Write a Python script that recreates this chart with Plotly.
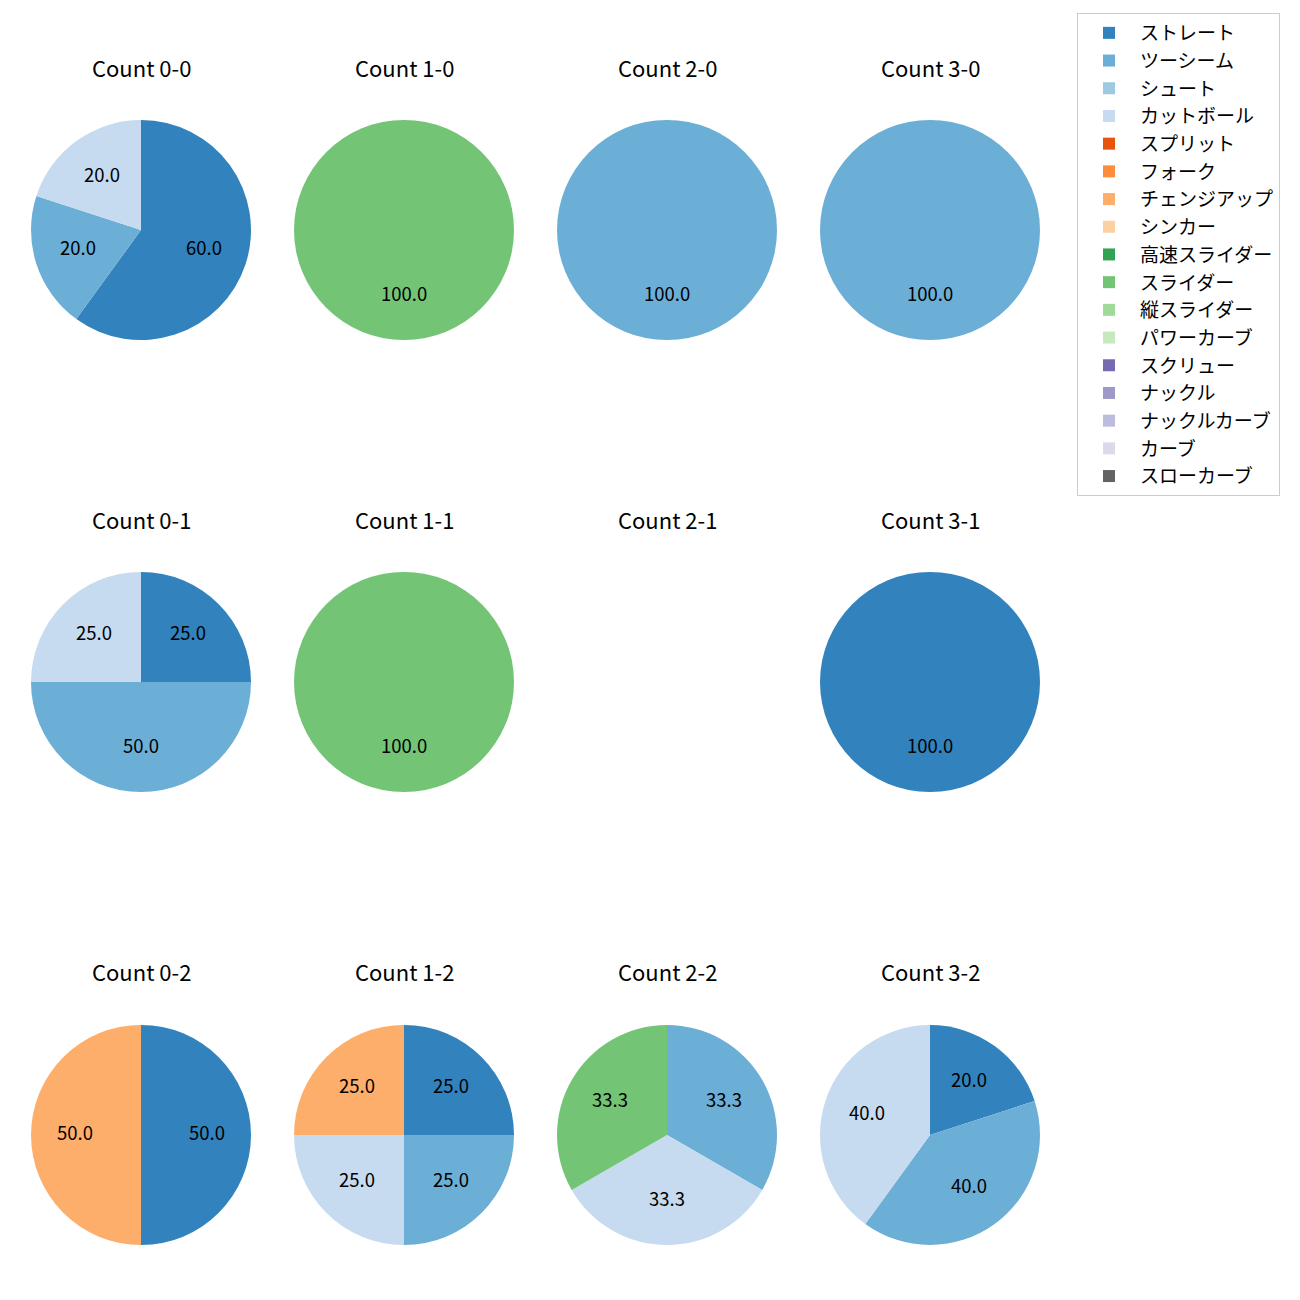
import plotly.graph_objects as go
import math

pitch_types = ["ストレート", "ツーシーム", "シュート", "カットボール", "スプリット", "フォーク",
               "チェンジアップ", "シンカー", "高速スライダー", "スライダー", "縦スライダー",
               "パワーカーブ", "スクリュー", "ナックル", "ナックルカーブ", "カーブ", "スローカーブ"]
pitch_colors = ["#3182bd", "#6baed6", "#9ecae1", "#c6dbef", "#e6550d", "#fd8d3c",
                "#fdae6b", "#fdd0a2", "#31a354", "#74c476", "#a1d99b", "#c7e9c0",
                "#756bb1", "#9e9ac8", "#bcbddc", "#dadaeb", "#636363"]

count_titles = ["Count 0-0", "Count 1-0", "Count 2-0", "Count 3-0",
                "Count 0-1", "Count 1-1", "Count 2-1", "Count 3-1",
                "Count 0-2", "Count 1-2", "Count 2-2", "Count 3-2"]

# pitch mix per count (pitch type -> count of pitches)
mix_0_0 = {"ストレート": 3, "ツーシーム": 1, "カットボール": 1}
mix_1_0 = {"スライダー": 1}
mix_2_0 = {"ツーシーム": 1}
mix_3_0 = {"ツーシーム": 1}
mix_0_1 = {"ストレート": 1, "ツーシーム": 2, "カットボール": 1}
mix_1_1 = {"スライダー": 1}
mix_2_1 = {}
mix_3_1 = {"ストレート": 1}
mix_0_2 = {"ストレート": 1, "チェンジアップ": 1}
mix_1_2 = {"ストレート": 1, "ツーシーム": 1, "カットボール": 1, "チェンジアップ": 1}
mix_2_2 = {"ツーシーム": 1, "カットボール": 1, "スライダー": 1}
mix_3_2 = {"ストレート": 1, "ツーシーム": 2, "カットボール": 2}

mixes = [mix_0_0, mix_1_0, mix_2_0, mix_3_0,
         mix_0_1, mix_1_1, mix_2_1, mix_3_1,
         mix_0_2, mix_1_2, mix_2_2, mix_3_2]

W = 1300.0
OFF = 8  # page offset of the figure
col_centers = [141 - OFF, 404 - OFF, 667 - OFF, 930 - OFF]
row_centers = [230 - OFF, 682 - OFF, 1135 - OFF]
title_y = [69 - OFF, 521 - OFF, 973 - OFF]
R = 110.0

FONT = "Noto Sans CJK JP"
fig = go.Figure()
annotations = []

for i, (title, mix) in enumerate(zip(count_titles, mixes)):
    r, c = divmod(i, 4)
    cx = col_centers[c] / W
    cy = 1 - row_centers[r] / W
    rr = R / W
    annotations.append(dict(x=cx, y=1 - title_y[r] / W, xref="paper", yref="paper",
                            text=title, showarrow=False, xanchor="center", yanchor="middle",
                            yshift=2,
                            font=dict(size=22, color="#000", family=FONT)))
    vals = [mix.get(p, 0) for p in pitch_types]
    total = sum(vals)
    if total > 0:
        fig.add_trace(go.Pie(
            labels=pitch_types, values=vals, sort=False, direction="clockwise", rotation=0,
            marker=dict(colors=pitch_colors, line=dict(width=0)),
            textinfo="none", hoverinfo="label+percent",
            domain=dict(x=[cx - rr, cx + rr], y=[cy - rr, cy + rr]),
            showlegend=(i == 0),
        ))
        cum = 0
        for v in vals:
            if v > 0:
                mid = 90 - 360.0 * (cum + v / 2.0) / total
                ax = cx + 0.6 * rr * math.cos(math.radians(mid))
                ay = cy + 0.6 * rr * math.sin(math.radians(mid))
                annotations.append(dict(x=ax, y=ay, xref="paper", yref="paper",
                                        text="%.1f" % (100.0 * v / total), showarrow=False,
                                        xanchor="center", yanchor="middle", yshift=3,
                                        font=dict(size=18.5, color="#000", family=FONT)))
            cum += v

fig.update_layout(
    width=1300, height=1300,
    margin=dict(l=0, r=0, t=0, b=0),
    paper_bgcolor="white", plot_bgcolor="white",
    font=dict(family=FONT, size=18, color="#000"),
    annotations=annotations,
    legend=dict(x=(1077 - OFF) / W, y=1 - (13 - OFF) / W, xanchor="left", yanchor="top",
                bgcolor="white", bordercolor="#cccccc", borderwidth=1,
                font=dict(size=19, family=FONT), traceorder="normal", itemwidth=52),
)

fig.write_html("out.html")
